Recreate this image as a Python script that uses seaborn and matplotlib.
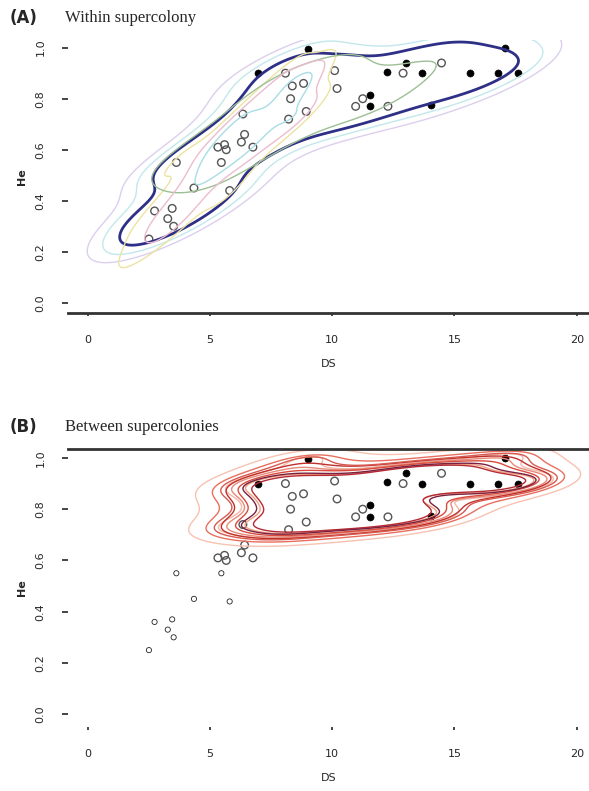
import numpy as np
import pandas as pd
import seaborn as sns
import matplotlib
matplotlib.use('Agg')
import matplotlib.pyplot as plt

# points (DS, He)
ds_open = [8.09, 10.10, 8.37, 8.83, 10.20, 8.30, 8.94, 8.22, 6.35, 6.42,
           6.29, 6.76, 5.33, 5.67, 5.60, 12.90, 14.47, 10.96, 12.28, 11.25,
           3.63, 5.47, 4.35, 5.81, 2.74, 3.46, 3.28, 3.52, 2.51]
he_open = [0.90, 0.91, 0.85, 0.86, 0.84, 0.80, 0.75, 0.72, 0.74, 0.66,
           0.63, 0.61, 0.61, 0.60, 0.62, 0.90, 0.94, 0.77, 0.77, 0.80,
           0.55, 0.55, 0.45, 0.44, 0.36, 0.37, 0.33, 0.30, 0.25]
ds_filled = [9.01, 6.97, 13.03, 12.26, 13.69, 15.62, 16.78, 17.60, 17.08,
             11.53, 11.53, 14.06]
he_filled = [0.995, 0.90, 0.94, 0.905, 0.90, 0.90, 0.90, 0.90, 1.0,
             0.815, 0.77, 0.775]

x_ticks = [0, 5, 10, 15, 20]
y_ticks = [0.0, 0.2, 0.4, 0.6, 0.8, 1.0]

df = pd.DataFrame({
    'DS': ds_open + ds_filled,
    'He': he_open + he_filled,
    'tipo': ['open'] * len(ds_open) + ['filled'] * len(ds_filled),
})
upper = df[df['He'] > 0.68]
op = df[df['tipo'] == 'open']
fl = df[df['tipo'] == 'filled']

sns.set_style('white')
plt.rcParams['font.family'] = ['DejaVu Sans']

fig = plt.figure(figsize=(5.89, 7.91), dpi=100)
ax_a = fig.add_axes([0.1154, 0.6043, 0.8846, 0.3451])
ax_b = fig.add_axes([0.1154, 0.0809, 0.8846, 0.3515])

# (A) contornos dentro da supercolonia
contours_a = [
    (df, 0.95, 0.12, '#dccfee', 1.0),
    (df, 0.9, 0.18, '#c3e8ec', 1.0),
    (df, 0.85, 0.28, '#2e2f86', 2.0),
    (op[op['DS'] < 10], 0.9, 0.15, '#ece3a2', 1.0),
    (op[op['He'] > 0.4], 1.15, 0.3, '#9cbf95', 1.0),
    (op[(op['DS'] > 3) & (op['DS'] < 9)], 0.9, 0.3, '#ecbccf', 1.0),
    (op[(op['DS'] > 4) & (op['DS'] < 9)], 0.9, 0.5, '#a8dde6', 1.0),
]
for sub, bw, lev, col, lw in contours_a:
    sns.kdeplot(data=sub, x='DS', y='He', bw_adjust=bw, levels=[lev],
                color=col, linewidths=lw, ax=ax_a)

sns.scatterplot(data=op, x='DS', y='He', marker='o', s=30, facecolor='none',
                edgecolor='#555555', linewidth=1.0, ax=ax_a)
sns.scatterplot(data=fl, x='DS', y='He', marker='o', s=26, color='black',
                edgecolor='black', ax=ax_a)

# (B) contornos entre supercolonias
reds = ['#f4b8a8', '#e88a7a', '#d94b3d', '#c0302b', '#f2a07e', '#e86f5e',
        '#b52a35', '#f7c2b2', '#d65a50', '#7a2040']
bws = [0.8, 0.85, 0.9, 0.95, 0.8, 1.0, 0.85, 1.1, 0.9, 0.82]
levs = [0.15, 0.2, 0.25, 0.18, 0.3, 0.12, 0.35, 0.08, 0.14, 0.28]
for bw, lev, col in zip(bws, levs, reds):
    sns.kdeplot(data=upper, x='DS', y='He', bw_adjust=bw, levels=[lev],
                color=col, linewidths=1.0, ax=ax_b)

op_hi = op[op['He'] > 0.58]
op_lo = op[op['He'] <= 0.58]
sns.scatterplot(data=op_hi, x='DS', y='He', marker='o', s=30, facecolor='none',
                edgecolor='#555555', linewidth=1.0, ax=ax_b)
sns.scatterplot(data=op_lo, x='DS', y='He', marker='o', s=14, facecolor='none',
                edgecolor='#222222', linewidth=0.6, ax=ax_b)
sns.scatterplot(data=fl, x='DS', y='He', marker='o', s=26, color='black',
                edgecolor='black', ax=ax_b)

for ax, ylim in [(ax_a, (-0.04, 1.03)), (ax_b, (-0.05, 1.035))]:
    ax.set_xlim(-0.8, 20.5)
    ax.set_ylim(*ylim)
    ax.set_xticks(x_ticks)
    ax.set_xticklabels([str(t) for t in x_ticks], fontsize=8)
    ax.set_yticks(y_ticks)
    ax.set_yticklabels([f'{t:.1f}' for t in y_ticks], fontsize=8,
                       rotation=90, va='center')
    ax.tick_params(axis='y', direction='out', length=4, width=1.2,
                   pad=12, left=True)
    ax.tick_params(axis='x', direction='out', length=2, width=1.2,
                   pad=14, bottom=True)
    ax.set_xlabel('DS', fontsize=8, labelpad=10)
    ax.set_ylabel('He', fontsize=8, fontweight='bold', labelpad=6)
    for s in ax.spines.values():
        s.set_visible(False)

ax_a.spines['bottom'].set_visible(True)
ax_a.spines['bottom'].set_linewidth(2)
ax_a.spines['bottom'].set_color('#333333')
ax_b.spines['top'].set_visible(True)
ax_b.spines['top'].set_linewidth(2)
ax_b.spines['top'].set_color('#333333')

fig.text(0.017, 1 - 18 / 791, '(A)', fontsize=12, fontweight='bold', va='center')
fig.text(0.11, 1 - 18 / 791, 'Within supercolony', fontsize=12,
         family='Liberation Serif', va='center')
fig.text(0.017, 1 - 427 / 791, '(B)', fontsize=12, fontweight='bold', va='center')
fig.text(0.11, 1 - 427 / 791, 'Between supercolonies', fontsize=12,
         family='Liberation Serif', va='center')

plt.savefig('out.png', dpi=100)
plt.close()
